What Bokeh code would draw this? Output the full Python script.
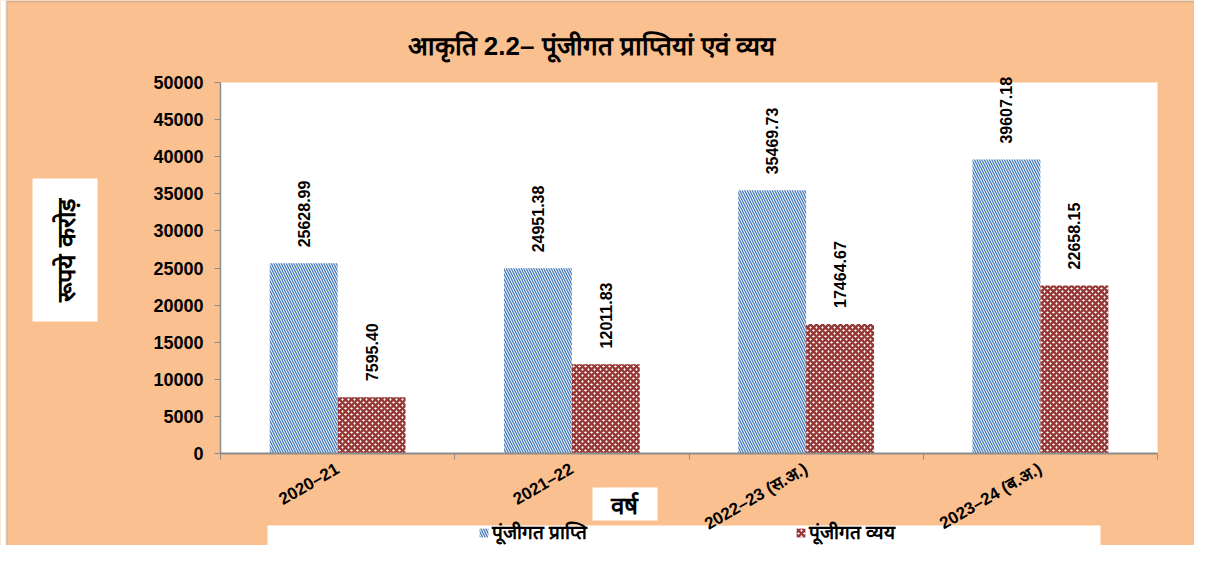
import math
from bokeh.plotting import figure
from bokeh.models import (ColumnDataSource, FixedTicker, LabelSet, Label, Legend,
                          LegendItem, Range1d, BoxAnnotation)
from bokeh.core.properties import value
from bokeh.embed import file_html
from bokeh.resources import INLINE

# ---------------- data ----------------
categories = ["2020–21", "2021–22", "2022–23 (स.अ.)", "2023–24 (ब.अ.)"]
capital_receipts = [25628.99, 24951.38, 35469.73, 39607.18]
capital_expenditure = [7595.40, 12011.83, 17464.67, 22658.15]
series_names = ["पूंजीगत प्राप्ति", "पूंजीगत व्यय"]
y_ticks = [0, 5000, 10000, 15000, 20000, 25000, 30000, 35000, 40000, 45000, 50000]
title_text = "आकृति 2.2– पूंजीगत प्राप्तियां एवं व्यय"
y_label_text = "रूपये करोड़"
x_label_text = "वर्ष"

# ---------------- styles / layout ----------------
ORANGE = "#FAC090"
BLUE = "#4A7EBB"
RED = "#953735"
GRAY = "#8C8C8C"
FONT = "Liberation Sans"
W, H = 1194, 545
FL, FR, FT, FB = 220, 1157, 82, 453     # white plot-area edges, canvas px
BAR_W = 0.29

n = len(categories)
y0, y1 = y_ticks[0], y_ticks[-1]
# the frame covers the whole canvas; ranges are widened so that the data
# rectangle [0, n] x [y0, y1] lands on the plot-area pixels
xpx = (FR - FL) / n
ypx = (FB - FT) / (y1 - y0)
x_range = Range1d(-FL / xpx, n + (W - FR) / xpx)
y_range = Range1d(y0 - (H - FB) / ypx, y1 + FT / ypx)

centers = [i + 0.5 for i in range(n)]
src1 = ColumnDataSource(dict(x=[c - BAR_W / 2 for c in centers], top=capital_receipts,
                             label=[f"{v:.2f}" for v in capital_receipts]))
src2 = ColumnDataSource(dict(x=[c + BAR_W / 2 for c in centers], top=capital_expenditure,
                             label=[f"{v:.2f}" for v in capital_expenditure]))

p = figure(width=W, height=H, output_backend="svg", toolbar_location=None,
           x_range=x_range, y_range=y_range, min_border=0,
           background_fill_color=ORANGE, border_fill_color=ORANGE, outline_line_color=None)
p.title.visible = False
p.xgrid.visible = False
p.ygrid.visible = False


def box(l, t, r, b, **kw):
    """rectangle given in canvas pixels, drawn beneath everything else"""
    opts = dict(fill_color="white", fill_alpha=1, line_color=None, level="underlay")
    opts.update(kw)
    return BoxAnnotation(left=l, right=r, top=H - t, bottom=H - b,
                         left_units="screen", right_units="screen",
                         top_units="screen", bottom_units="screen", **opts)


# chart border (left & top edges)
p.add_layout(box(0, -5, 6, H + 5))
p.add_layout(box(6, 1, W + 20, H + 20, fill_alpha=0, line_color=GRAY, line_width=2,
                 line_dash="solid"))

# white boxes for axis titles and legend
p.add_layout(box(32, 178, 97, 321))     # y-axis title
p.add_layout(box(592, 487, 657, 520))   # x-axis title
p.add_layout(box(267, 525, 1100, 545))  # legend strip

# white plot area
p.quad(left=0, right=n, bottom=y0, top=y1, fill_color="white", line_color=None)

r1 = p.vbar(x="x", top="top", bottom=0, width=BAR_W, source=src1,
            fill_color="white", line_color=None,
            hatch_pattern="left_diagonal_line", hatch_color=BLUE,
            hatch_scale=5, hatch_weight=1.4)
r2 = p.vbar(x="x", top="top", bottom=0, width=BAR_W, source=src2,
            fill_color="white", line_color=None,
            hatch_pattern="diagonal_cross", hatch_color=RED,
            hatch_scale=6, hatch_weight=2.4)

for src in (src1, src2):
    p.add_layout(LabelSet(x="x", y="top", text="label", source=src,
                          angle=math.pi / 2, y_offset=16,
                          text_align="left", text_baseline="middle",
                          text_font=value(FONT), text_font_size="16px",
                          text_font_style="bold", text_color="black"))

# y axis (pinned at x = 0)
ya = p.yaxis[0]
ya.fixed_location = 0
ya.bounds = (y0, y1)
ya.ticker = FixedTicker(ticks=y_ticks)
ya.axis_line_color = GRAY
ya.axis_line_width = 1.5
ya.major_tick_line_color = GRAY
ya.major_tick_out = 6
ya.major_tick_in = 0
ya.minor_tick_line_color = None
ya.major_label_standoff = 11
ya.major_label_text_font = FONT
ya.major_label_text_font_size = "18px"
ya.major_label_text_font_style = "bold"
ya.major_label_text_color = "black"

# x axis (pinned at y = 0)
xa = p.xaxis[0]
xa.fixed_location = 0
xa.bounds = (0, n)
xa.ticker = FixedTicker(ticks=centers, minor_ticks=list(range(n + 1)))
xa.major_label_overrides = {c: lab for c, lab in zip(centers, categories)}
xa.axis_line_color = GRAY
xa.axis_line_width = 2
xa.major_tick_out = 0
xa.major_tick_in = 0
xa.minor_tick_out = 6
xa.minor_tick_in = 0
xa.minor_tick_line_color = GRAY
xa.major_label_orientation = math.pi / 6
xa.major_label_standoff = 8
xa.major_label_text_font = FONT
xa.major_label_text_font_size = "17px"
xa.major_label_text_font_style = "bold"
xa.major_label_text_color = "black"


def label(x, y, text, size, **kw):
    return Label(x=x, y=H - y, x_units="screen", y_units="screen", text=text,
                 text_align="center", text_baseline="middle", text_font=FONT,
                 text_font_size=size, text_font_style="bold", text_color="black", **kw)


p.add_layout(label(591, 45, title_text, "26px"))
p.add_layout(label(65, 250, y_label_text, "25px", angle=math.pi / 2))
p.add_layout(label(624, 505, x_label_text, "24px"))

legend = Legend(items=[LegendItem(label=series_names[0], renderers=[r1]),
                       LegendItem(label=series_names[1], renderers=[r2])],
                orientation="horizontal", location=(478, H - 545),
                glyph_width=11, glyph_height=11, label_standoff=3,
                label_width=303, label_height=20, spacing=0, padding=0, margin=0,
                background_fill_alpha=0, border_line_color=None,
                label_text_font=FONT, label_text_font_size="19px",
                label_text_font_style="bold", label_text_color="black")
p.add_layout(legend, "center")

open("out.html", "w").write(file_html(p, INLINE))
